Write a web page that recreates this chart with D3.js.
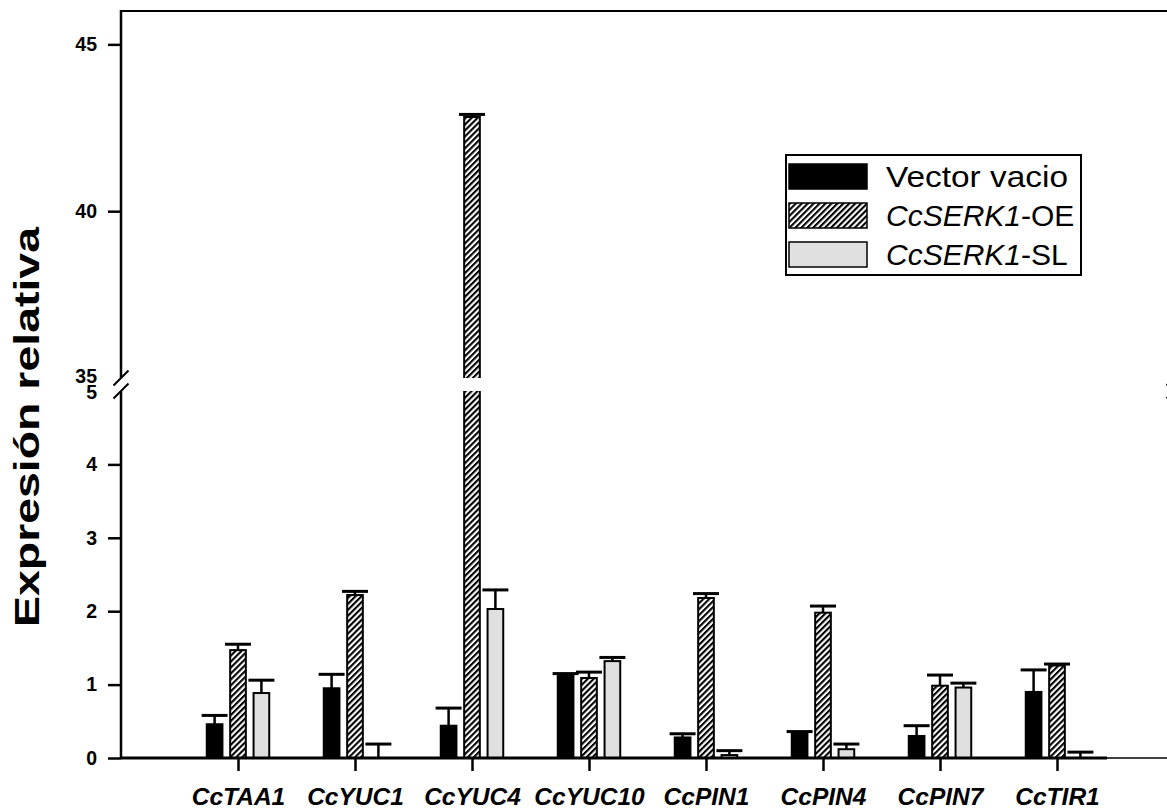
<!DOCTYPE html>
<html>
<head>
<meta charset="utf-8">
<script src="https://cdn.jsdelivr.net/npm/d3@7"></script>
<style>
  html, body { margin: 0; padding: 0; background: #fff; }
  svg { display: block; font-family: Arial, "Liberation Sans", sans-serif; }
</style>
</head>
<body>
<svg id="chart" width="1167" height="811"></svg>
<script>
// ---- data ----
const categories = ["CcTAA1", "CcYUC1", "CcYUC4", "CcYUC10", "CcPIN1", "CcPIN4", "CcPIN7", "CcTIR1"];
const seriesNames = ["Vector vacio", "CcSERK1-OE", "CcSERK1-SL"];
const vectorVacio    = [0.46, 0.95, 0.44, 1.12, 0.28, 0.33, 0.30, 0.90];
const vectorVacioErr = [0.12, 0.19, 0.24, 0.03, 0.05, 0.03, 0.14, 0.30];
const serkOE         = [1.47, 2.22, 42.82, 1.09, 2.18, 1.98, 0.985, 1.26];
const serkOEErr      = [0.08, 0.05, 0.08, 0.08, 0.06, 0.09, 0.145, 0.02];
const serkSL         = [0.885, 0.0, 2.03, 1.32, 0.04, 0.12, 0.96, 0.0];
const serkSLErr      = [0.175, 0.19, 0.26, 0.05, 0.06, 0.07, 0.06, 0.08];
const lowerTicks = [0, 1, 2, 3, 4, 5];
const upperTicks = [35, 40, 45];
const yTitle = "Expresión relativa";

const values = [vectorVacio, serkOE, serkSL];
const errors = [vectorVacioErr, serkOEErr, serkSLErr];

// ---- layout ----
const svg = d3.select("#chart");
const pLeft = 121, pRight = 1174, pTop = 11, pBottom = 758;
const breakHi = 378, breakLo = 391;

const x = d3.scaleLinear().domain([0, categories.length + 1]).range([pLeft, pRight]);
const yLow = d3.scaleLinear().domain([0, 5]).range([pBottom, breakLo]);
const yHigh = d3.scaleLinear().domain([35, 46]).range([breakHi, pTop]);

const offsets = [-0.2, 0, 0.2];
const barW = x(0.134) - x(0);
const capW = x(0.222) - x(0);

// hatch pattern
const defs = svg.append("defs");
const pat = defs.append("pattern")
  .attr("id", "hatch").attr("patternUnits", "userSpaceOnUse")
  .attr("width", 4.2).attr("height", 4.2)
  .attr("patternTransform", "rotate(45)");
pat.append("rect").attr("width", 4.2).attr("height", 4.2).attr("fill", "#fff");
pat.append("rect").attr("width", 2.1).attr("height", 4.2).attr("fill", "#000");

const fills = ["#000", "url(#hatch)", "#e0e0e0"];

// ---- bars ----
const gBars = svg.append("g");
values.forEach((vals, s) => {
  vals.forEach((v, i) => {
    const cx = x(i + 1 + offsets[s]);
    const x0 = cx - barW / 2;
    if (v <= 5) {
      gBars.append("rect")
        .attr("x", x0).attr("y", yLow(v))
        .attr("width", barW).attr("height", yLow(0) - yLow(v))
        .attr("fill", fills[s]).attr("stroke", "#000").attr("stroke-width", 2);
    } else {
      gBars.append("rect")
        .attr("x", x0).attr("y", yLow(5))
        .attr("width", barW).attr("height", yLow(0) - yLow(5))
        .attr("fill", fills[s]);
      gBars.append("rect")
        .attr("x", x0).attr("y", yHigh(v))
        .attr("width", barW).attr("height", yHigh(35) - yHigh(v))
        .attr("fill", fills[s]);
      const path = d3.path();
      path.moveTo(x0, yLow(5)); path.lineTo(x0, yLow(0));
      path.moveTo(x0 + barW, yLow(5)); path.lineTo(x0 + barW, yLow(0));
      path.moveTo(x0, yHigh(35)); path.lineTo(x0, yHigh(v)); path.lineTo(x0 + barW, yHigh(v)); path.lineTo(x0 + barW, yHigh(35));
      gBars.append("path").attr("d", path.toString())
        .attr("fill", "none").attr("stroke", "#000").attr("stroke-width", 2);
    }
    const e = errors[s][i];
    const yv = v <= 5 ? yLow(v) : yHigh(v);
    const ye = (v + e) <= 5 ? yLow(v + e) : yHigh(v + e);
    gBars.append("line")
      .attr("x1", cx).attr("x2", cx).attr("y1", yv).attr("y2", ye)
      .attr("stroke", "#000").attr("stroke-width", 2.5);
    gBars.append("line")
      .attr("x1", cx - capW / 2).attr("x2", cx + capW / 2).attr("y1", ye).attr("y2", ye)
      .attr("stroke", "#000").attr("stroke-width", 3);
  });
});

// ---- frame / axes lines ----
const gFrame = svg.append("g").attr("stroke", "#000").attr("fill", "none");
gFrame.append("line").attr("x1", pLeft - 1).attr("x2", pRight).attr("y1", pTop).attr("y2", pTop).attr("stroke-width", 2.2);
gFrame.append("line").attr("x1", pLeft).attr("x2", pLeft).attr("y1", pTop - 1).attr("y2", breakHi).attr("stroke-width", 2.5);
gFrame.append("line").attr("x1", pLeft).attr("x2", pLeft).attr("y1", breakLo).attr("y2", pBottom + 1).attr("stroke-width", 2.5);
gFrame.append("line").attr("x1", pRight).attr("x2", pRight).attr("y1", pTop - 1).attr("y2", breakHi).attr("stroke-width", 2.5);
gFrame.append("line").attr("x1", pRight).attr("x2", pRight).attr("y1", breakLo).attr("y2", pBottom + 1).attr("stroke-width", 2.5);
gFrame.append("line").attr("x1", pLeft).attr("x2", 1107).attr("y1", pBottom).attr("y2", pBottom).attr("stroke-width", 3);
gFrame.append("line").attr("x1", 1107).attr("x2", pRight).attr("y1", pBottom).attr("y2", pBottom).attr("stroke-width", 1.6);
[pLeft, pRight].forEach(ax => {
  [breakHi, breakLo].forEach(by => {
    gFrame.append("line")
      .attr("x1", ax - 7.5).attr("y1", by + 7.5)
      .attr("x2", ax + 7.5).attr("y2", by - 7.5)
      .attr("stroke-width", 2);
  });
});

// ---- y axes ----
function styleAxis(g, noTick, nudge) {
  g.select(".domain").remove();
  g.selectAll(".tick line").attr("stroke", "#000").attr("stroke-width", 2.5)
    .filter(d => noTick.includes(d)).remove();
  g.selectAll(".tick text")
    .attr("fill", "#000")
    .style("font-family", "Arial, 'Liberation Sans', sans-serif")
    .style("font-size", "19.5px").style("font-weight", "bold")
    .filter(d => noTick.includes(d)).attr("y", nudge);
}
svg.append("g").attr("transform", `translate(${pLeft},0)`)
  .call(d3.axisLeft(yLow).tickValues(lowerTicks).tickSize(13).tickPadding(11).tickFormat(d3.format("d")))
  .call(g => styleAxis(g, [5], 1.5));
svg.append("g").attr("transform", `translate(${pLeft},0)`)
  .call(d3.axisLeft(yHigh).tickValues(upperTicks).tickSize(13).tickPadding(11).tickFormat(d3.format("d")))
  .call(g => styleAxis(g, [35], -2));

// ---- x axis ----
const gx = svg.append("g").attr("transform", `translate(0,${pBottom})`)
  .call(d3.axisBottom(x).tickValues(d3.range(1, categories.length + 1))
    .tickFormat(d => categories[d - 1]).tickSize(13).tickPadding(16.5));
gx.select(".domain").remove();
gx.selectAll(".tick line").attr("stroke", "#000").attr("stroke-width", 2.5);
gx.selectAll(".tick text")
  .attr("fill", "#000")
  .style("font-family", "Arial, 'Liberation Sans', sans-serif")
  .style("font-size", "24.5px").style("font-weight", "bold").style("font-style", "italic");

// ---- y title ----
svg.append("text")
  .attr("transform", "translate(39,427) rotate(-90)")
  .attr("text-anchor", "middle")
  .attr("textLength", 400).attr("lengthAdjust", "spacingAndGlyphs")
  .style("font-size", "35px").style("font-weight", "bold")
  .text(yTitle);

// ---- legend ----
const lg = svg.append("g");
lg.append("rect").attr("x", 786).attr("y", 155).attr("width", 295).attr("height", 120)
  .attr("fill", "#fff").attr("stroke", "#000").attr("stroke-width", 2);
const rowsY = [164, 203, 242];
const baseY = [187, 226, 265];
seriesNames.forEach((name, s) => {
  lg.append("rect").attr("x", 789).attr("y", rowsY[s]).attr("width", 78).attr("height", 25)
    .attr("fill", fills[s]).attr("stroke", "#000").attr("stroke-width", 1.5);
  const t = lg.append("text").attr("x", 886).attr("y", baseY[s]).style("font-size", "30px");
  if (name.startsWith("CcSERK1")) {
    t.append("tspan").style("font-style", "italic").text("CcSERK1");
    t.append("tspan").text(name.slice(7));
  } else {
    t.attr("textLength", 182).attr("lengthAdjust", "spacingAndGlyphs").text(name);
  }
});
</script>
</body>
</html>
